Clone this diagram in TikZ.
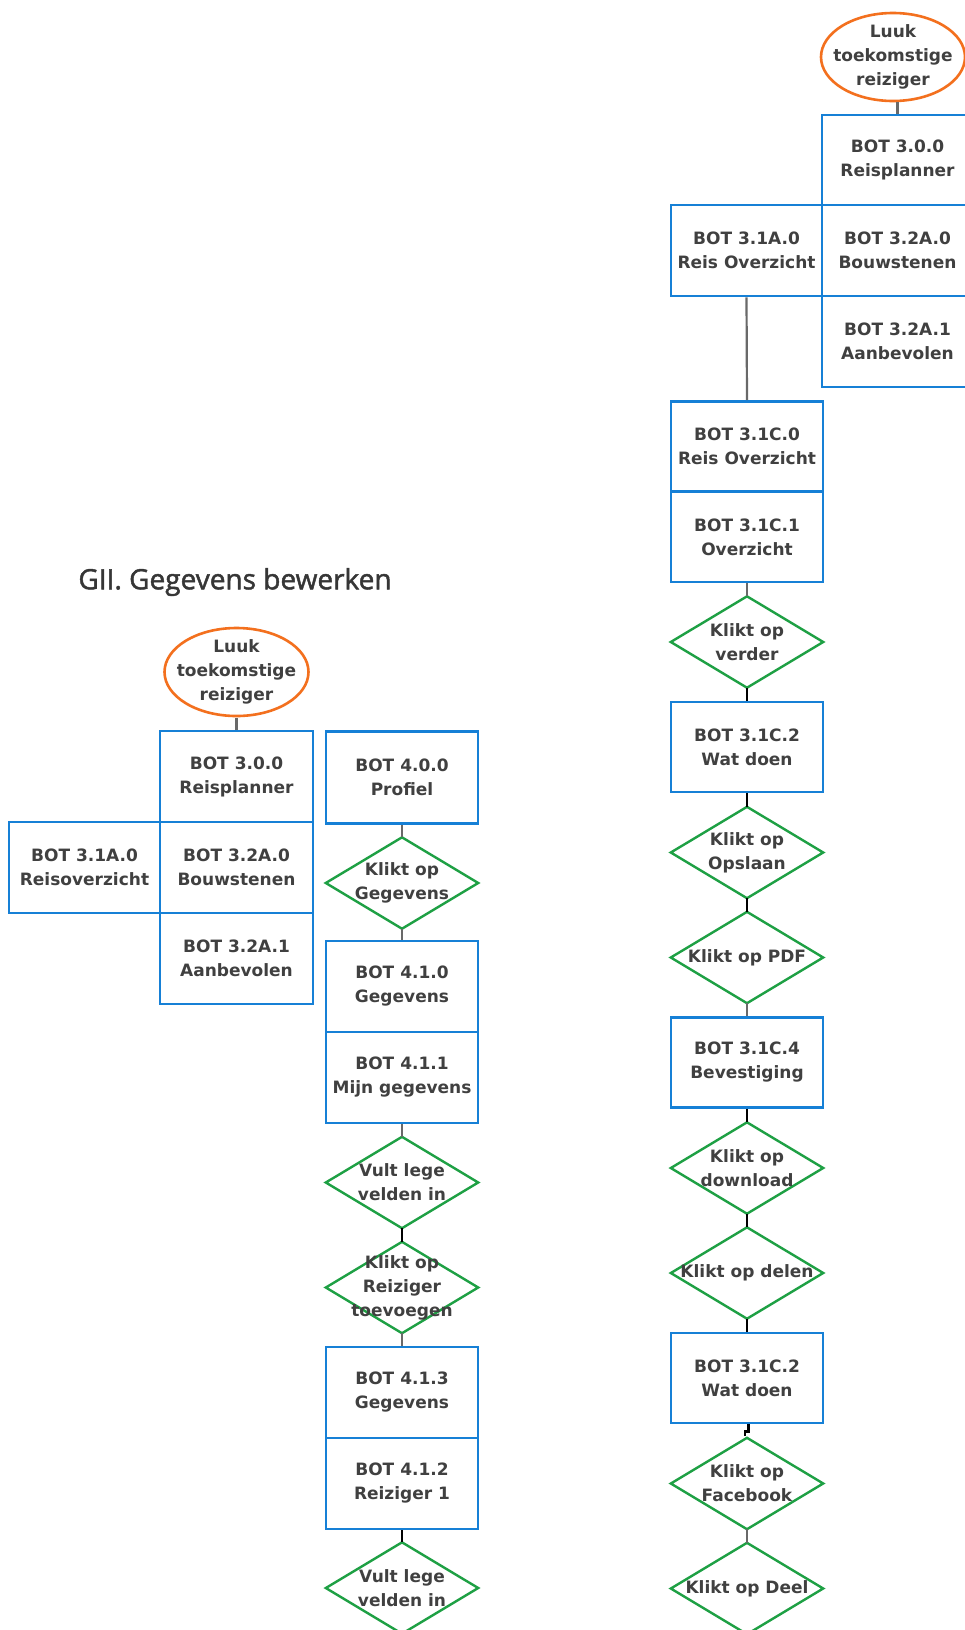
\documentclass[tikz,border=0pt]{standalone}
\usepackage{fontspec}
\setmainfont{DejaVu Sans}
\newfontfamily\titlefont{Open Sans}[FakeBold=1.6]
\definecolor{bbl}{RGB}{22,128,214}
\definecolor{org}{RGB}{243,112,30}
\definecolor{grn}{RGB}{30,160,68}
\definecolor{txt}{RGB}{64,64,64}
\definecolor{lgr}{RGB}{105,105,105}
\begin{document}
\begin{tikzpicture}[x=1pt,y=-1pt,
  lbl/.style={inner sep=0pt, align=center, text=txt, font=\bfseries\fontsize{17}{24}\selectfont},
  box/.style={lbl, draw=bbl, line width=2.8pt, minimum width=152pt, minimum height=90pt},
  wbox/.style={box, minimum width=151pt},
  dia/.style={lbl, minimum width=152pt, minimum height=91pt,
    append after command={\pgfextra{\draw[draw=grn, line width=2.4pt, line join=miter]
      (\tikzlastnode.north) -- (\tikzlastnode.east) -- (\tikzlastnode.south) -- (\tikzlastnode.west) -- cycle;}}},
  ell/.style={lbl, minimum width=146pt, minimum height=90pt,
    append after command={\pgfextra{\draw[draw=org, line width=2.6pt]
      (\tikzlastnode.center) ellipse [x radius=72pt, y radius=44pt];}}},
  gline/.style={draw=lgr, line width=2.2pt},
  kline/.style={draw=black, line width=2.8pt}
]
\useasboundingbox (0,0) rectangle (965,1630);
\clip (0,0) rectangle (965,1630);
\fill[white] (0,0) rectangle (965,1630);

% ---------- right column ----------
\node[ell, minimum width=142pt] (rE) at (893,57) {Luuk\\toekomstige\\reiziger};
\node[wbox] (r300) at (897.5,160) {BOT 3.0.0\\Reisplanner};
\node[wbox, minimum height=91pt] (r31A) at (746.5,250.5) {BOT 3.1A.0\\Reis Overzicht};
\node[wbox, minimum height=91pt] (r32A0) at (897.5,250.5) {BOT 3.2A.0\\Bouwstenen};
\node[wbox, minimum height=91pt] (r32A1) at (897.5,341.5) {BOT 3.2A.1\\Aanbevolen};
\node[box] (r31C0) at (747,446.5) {BOT 3.1C.0\\Reis Overzicht};
\node[box] (r31C1) at (747,537) {BOT 3.1C.1\\Overzicht};
\node[dia] (dVerder) at (747,642) {Klikt op\\verder};
\node[box] (r31C2) at (747,747) {BOT 3.1C.2\\Wat doen};
\node[dia] (dOpslaan) at (747,852.5) {Klikt op\\Opslaan};
\node[dia] (dPdf) at (747,957.5) {Klikt op PDF};
\node[box] (r31C4) at (747,1062.5) {BOT 3.1C.4\\Bevestiging};
\node[dia] (dDownload) at (747,1168) {Klikt op\\download};
\node[dia] (dDelen) at (747,1273) {Klikt op delen};
\node[box] (r31C2b) at (747,1378) {BOT 3.1C.2\\Wat doen};
\node[dia] (dFacebook) at (747,1483.5) {Klikt op\\Facebook};
\node[dia] (dDeel) at (747,1588.5) {Klikt op Deel};

\draw[gline] (r300.north |- rE.south) -- (r300.north);
\draw[gline] (r31A.south) -- (r31C0.north);
\draw[gline] (r31C1.south) -- (dVerder.north);
\draw[kline] (dVerder.south) -- (r31C2.north);
\draw[kline] (r31C2.south) -- (dOpslaan.north);
\draw[kline] (dOpslaan.south) -- (dPdf.north);
\draw[gline] (dPdf.south) -- (r31C4.north);
\draw[kline] (r31C4.south) -- (dDownload.north);
\draw[kline] (dDownload.south) -- (dDelen.north);
\draw[kline] (dDelen.south) -- (r31C2b.north);
\draw[kline] ([xshift=1.5pt]r31C2b.south) -- ([xshift=1.5pt,yshift=6pt]dFacebook.north) -- ([xshift=-2pt,yshift=6pt]dFacebook.north) -- ([xshift=-2pt,yshift=2pt]dFacebook.north);
\draw[gline] (dFacebook.south) -- (dDeel.north);

% ---------- left part ----------
\node[inner sep=0pt, text=txt!85!black, font=\titlefont\fontsize{28}{32}\selectfont] (title) at (235,582) {GII. Gegevens bewerken};

\node[ell, minimum width=150pt, minimum height=92pt] (lE) at (236.5,672) {Luuk\\toekomstige\\reiziger};
\node[box, minimum width=153pt, minimum height=91pt] (l300) at (236.5,776.5) {BOT 3.0.0\\Reisplanner};
\node[wbox, minimum height=91pt] (l31A) at (84.5,867.5) {BOT 3.1A.0\\Reisoverzicht};
\node[box, minimum width=153pt, minimum height=91pt] (l32A0) at (236.5,867.5) {BOT 3.2A.0\\Bouwstenen};
\node[box, minimum width=153pt, minimum height=91pt] (l32A1) at (236.5,958.5) {BOT 3.2A.1\\Aanbevolen};

\node[box, minimum height=92pt] (l400) at (402,777.5) {BOT 4.0.0\\Profiel};
\node[dia] (dGeg) at (402,883) {Klikt op\\Gegevens};
\node[box, minimum height=91pt] (l410) at (402,986.5) {BOT 4.1.0\\Gegevens};
\node[box, minimum height=91pt] (l411) at (402,1077.5) {BOT 4.1.1\\Mijn gegevens};
\node[dia] (dVult1) at (402,1182.5) {Vult lege\\velden in};
\node[dia] (dReiz) at (402,1287.5) {Klikt op\\Reiziger\\toevoegen};
\node[box, minimum height=91pt] (l413) at (402,1392.5) {BOT 4.1.3\\Gegevens};
\node[box, minimum height=91pt] (l412) at (402,1483.5) {BOT 4.1.2\\Reiziger 1};
\node[dia] (dVult2) at (402,1588) {Vult lege\\velden in};

\draw[gline] (lE.south) -- (l300.north);
\draw[gline] (l400.south) -- (dGeg.north);
\draw[gline] (dGeg.south) -- (l410.north);
\draw[gline] (l411.south) -- (dVult1.north);
\draw[kline] (dVult1.south) -- (dReiz.north);
\draw[gline] (dReiz.south) -- (l413.north);
\draw[kline] (l412.south) -- (dVult2.north);
\end{tikzpicture}
\end{document}
